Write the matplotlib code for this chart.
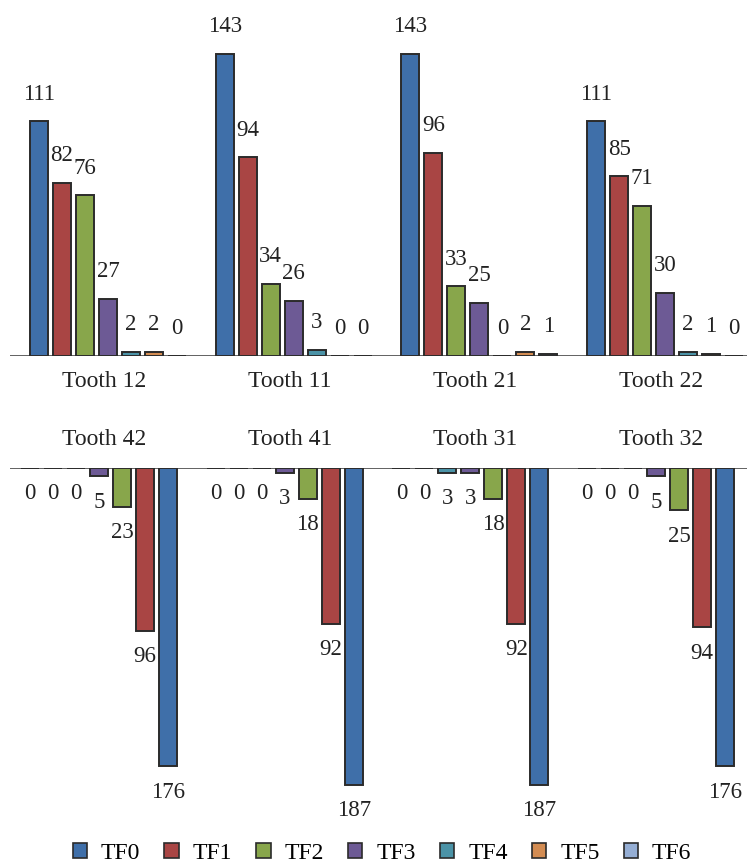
import numpy as np
import matplotlib
matplotlib.use("Agg")
import matplotlib.pyplot as plt
from matplotlib.patches import Patch

plt.rcParams['font.family'] = ['Liberation Serif', 'DejaVu Serif']

# --- DATA ---
series = ['TF0', 'TF1', 'TF2', 'TF3', 'TF4', 'TF5', 'TF6']
colors = ['#3f6fa9', '#a94544', '#88a64b', '#6d5a95', '#4b93a7', '#d38c52', '#95aed4']

upper_teeth = ['Tooth 12', 'Tooth 11', 'Tooth 21', 'Tooth 22']
upper_values = [
    [111, 82, 76, 27, 2, 2, 0],
    [143, 94, 34, 26, 3, 0, 0],
    [143, 96, 33, 25, 0, 2, 1],
    [111, 85, 71, 30, 2, 1, 0],
]

lower_teeth = ['Tooth 42', 'Tooth 41', 'Tooth 31', 'Tooth 32']
lower_values = [
    [176, 96, 23, 5, 0, 0, 0],
    [187, 92, 18, 3, 0, 0, 0],
    [187, 92, 18, 3, 3, 0, 0],
    [176, 94, 25, 5, 0, 0, 0],
]

# --- LAYOUT (pixel based, figure 747 x 863) ---
W, H = 747, 863
fig = plt.figure(figsize=(W / 100, H / 100), dpi=100)

pitch = 23.0          # px between bars
gap = 185.7 / pitch   # group spacing in slot units
bar_w = 18.0 / pitch
x_left, x_right = 10, 747
fs = 16.5
edge = '#2b2b2b'


def make_axes(top_px, bottom_px):
    return fig.add_axes([x_left / W, (H - bottom_px) / H,
                         (x_right - x_left) / W, (bottom_px - top_px) / H])


def xlim_for(center_px):
    return ((x_left - center_px) / pitch, (x_right - center_px) / pitch)


# ---------------- upper jaw ----------------
ax1 = make_axes(10, 356)
ax1.set_ylim(0, 346 / 2.115)
ax1.set_xlim(*xlim_for(108))
for g, vals in enumerate(upper_values):
    for j, v in enumerate(vals):
        x = g * gap + (j - 3)
        ax1.bar(x, v, width=bar_w, color=colors[j], edgecolor=edge,
                linewidth=1.4, zorder=3)
        ax1.annotate(str(v), (x, v), xytext=(0, 12), textcoords='offset points',
                     ha='center', va='bottom', fontsize=fs, color='#222222')
ax1.axhline(0, color='#555555', lw=1.3, zorder=2)
ax1.axis('off')

# ---------------- lower jaw ----------------
ax2 = make_axes(468, 810)
ax2.set_ylim(-342 / 1.695, 0)
ax2.set_xlim(*xlim_for(99))
for g, vals in enumerate(lower_values):
    for j, v in enumerate(vals):
        x = g * gap + (3 - j)
        ax2.bar(x, -v, width=bar_w, color=colors[j], edgecolor=edge,
                linewidth=1.4, zorder=3)
        ax2.annotate(str(v), (x, -v), xytext=(0, -11), textcoords='offset points',
                     ha='center', va='top', fontsize=fs, color='#222222')
ax2.axhline(0, color='#555555', lw=1.3, zorder=2)
ax2.axis('off')

# ---------------- group labels ----------------
for g in range(4):
    cx = (104 + 185.7 * g) / W
    fig.text(cx, (H - 381) / H, upper_teeth[g], ha='center', va='center',
             fontsize=17, color='#222222')
    fig.text(cx, (H - 439) / H, lower_teeth[g], ha='center', va='center',
             fontsize=17, color='#222222')

# ---------------- legend ----------------
handles = [Patch(facecolor=c, edgecolor=edge, linewidth=1.2) for c in colors]
fig.legend(handles, series, loc='center', bbox_to_anchor=(382 / W, (H - 853) / H),
           ncol=7, frameon=False, fontsize=17, handlelength=0.6, handleheight=0.6,
           handletextpad=0.6, columnspacing=1.02)

fig.savefig('out.png', dpi=100)
